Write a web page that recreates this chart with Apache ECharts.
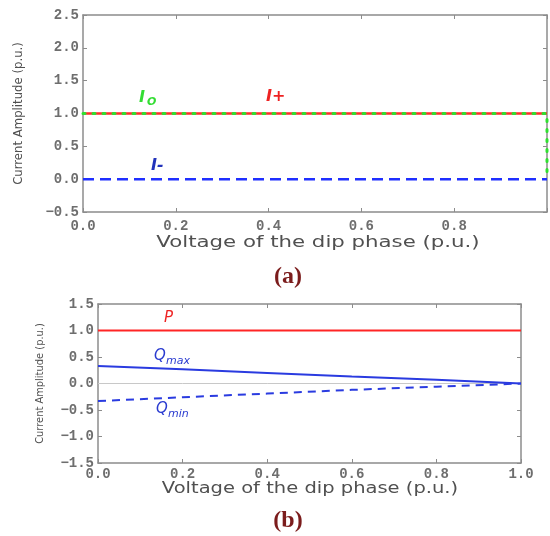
<!DOCTYPE html>
<html>
<head>
<meta charset="utf-8">
<script src="https://cdn.jsdelivr.net/npm/echarts@6/dist/echarts.min.js"></script>
<style>
  html, body { margin: 0; padding: 0; background: #fff; }
  #main { width: 550px; height: 536px; }
</style>
</head>
<body>
<div id="main"></div>
<script>
// data
var xVals = [0, 0.2, 0.4, 0.6, 0.8, 1.0];
var iPlus = [1, 1, 1, 1, 1, 1];
var iMinus = [0, 0, 0, 0, 0, 0];
var iZeroX = [0, 0.2, 0.4, 0.6, 0.8, 1.0, 1.0];
var iZero = [1, 1, 1, 1, 1, 1, 0];
var pVals = [1, 1, 1, 1, 1, 1];
var qMax = [0.33, 0.27, 0.2, 0.13, 0.07, 0];
var qMin = [-0.33, -0.26, -0.19, -0.12, -0.06, 0];
var zeroVals = [0, 0, 0, 0, 0, 0];
var xName = 'Voltage of the dip phase (p.u.)';
var yName = 'Current Amplitude (p.u.)';

function pairs(xs, ys) {
  return xs.map(function (x, i) { return [x, ys[i]]; });
}
function fmt(v) {
  return v < 0 ? '\u2212' + Math.abs(v).toFixed(1) : v.toFixed(1);
}

var myChart = echarts.init(document.getElementById('main'));

var axisColor = '#8c8c8c';
var labelStyle = {
  fontFamily: 'Liberation Mono', fontWeight: 'bold', fontSize: 14, color: '#6e6e6e'
};
var yNameStyle = { fontFamily: 'Liberation Sans Narrow, DejaVu Sans Condensed', fontSize: 13, color: '#505050' };

function xAxisCfg(grid, pos, showLabel, margin, hideLast) {
  return {
    type: 'value', gridIndex: grid, position: pos, min: 0, max: 1, interval: 0.2,
    axisLine: { show: true, onZero: false, lineStyle: { color: axisColor, width: 1.5 } },
    axisTick: { show: true, inside: true, length: 4, lineStyle: { color: axisColor } },
    axisLabel: Object.assign({
      show: showLabel, margin: margin,
      formatter: function (v) { return (hideLast && v === 1) ? '' : fmt(v); }
    }, labelStyle),
    splitLine: { show: false }
  };
}
function yAxisCfg(grid, pos, showLabel, min, max, name, gap, nameStyleUse) {
  return {
    type: 'value', gridIndex: grid, position: pos, min: min, max: max, interval: 0.5,
    axisLine: { show: true, onZero: false, lineStyle: { color: axisColor, width: 1.5 } },
    axisTick: { show: true, inside: true, length: 4, lineStyle: { color: axisColor } },
    axisLabel: Object.assign({ show: showLabel, margin: 4, formatter: fmt }, labelStyle),
    splitLine: { show: false },
    name: name, nameLocation: 'middle', nameGap: gap, nameTextStyle: nameStyleUse
  };
}

var option = {
  animation: false,
  grid: [
    { left: 83, top: 15, width: 466, height: 197 },
    { left: 98, top: 304, width: 423, height: 159 }
  ],
  xAxis: [
    xAxisCfg(0, 'bottom', true, 7, true),
    xAxisCfg(0, 'top', false, 4, false),
    xAxisCfg(1, 'bottom', true, 4, false),
    xAxisCfg(1, 'top', false, 4, false)
  ],
  yAxis: [
    yAxisCfg(0, 'left', true, -0.5, 2.5, yName, 58, yNameStyle),
    yAxisCfg(0, 'right', false, -0.5, 2.5, '', 0, yNameStyle),
    yAxisCfg(1, 'left', true, -1.5, 1.5, yName, 52,
      Object.assign({}, yNameStyle, { fontSize: 11 })),
    yAxisCfg(1, 'right', false, -1.5, 1.5, '', 0, yNameStyle)
  ],
  series: [
    { name: 'I+', type: 'line', xAxisIndex: 0, yAxisIndex: 0, data: pairs(xVals, iPlus),
      symbol: 'none', lineStyle: { color: '#ff2a2a', width: 2.5 }, z: 2 },
    { name: 'I0', type: 'line', xAxisIndex: 0, yAxisIndex: 0, data: pairs(iZeroX, iZero),
      symbol: 'none', clip: false,
      lineStyle: { color: '#2fe02f', width: 3, type: [2, 8], cap: 'round' }, z: 3 },
    { name: 'I-', type: 'line', xAxisIndex: 0, yAxisIndex: 0, data: pairs(xVals, iMinus),
      symbol: 'none', lineStyle: { color: '#1f2fff', width: 2.5, type: [11, 6] }, z: 2 },
    { name: 'zero', type: 'line', xAxisIndex: 2, yAxisIndex: 2, data: pairs(xVals, zeroVals),
      symbol: 'none', lineStyle: { color: '#c8c8c8', width: 1 }, z: 1 },
    { name: 'P', type: 'line', xAxisIndex: 2, yAxisIndex: 2, data: pairs(xVals, pVals),
      symbol: 'none', lineStyle: { color: '#ff2525', width: 1.8 }, z: 2 },
    { name: 'Qmax', type: 'line', xAxisIndex: 2, yAxisIndex: 2, data: pairs(xVals, qMax),
      symbol: 'none', lineStyle: { color: '#2a3be0', width: 2 }, z: 2 },
    { name: 'Qmin', type: 'line', xAxisIndex: 2, yAxisIndex: 2, data: pairs(xVals, qMin),
      symbol: 'none', lineStyle: { color: '#2a3be0', width: 2, type: [8, 6] }, z: 2 }
  ],
  graphic: [
    // x axis titles (the source figure is stretched sideways)
    { type: 'text', x: 318, y: 243, scaleX: 1.33, style: { text: xName, fill: '#505050',
      font: '16px DejaVu Sans', textAlign: 'center', textVerticalAlign: 'middle' } },
    { type: 'text', x: 310, y: 489, scaleX: 1.3, style: { text: xName, fill: '#505050',
      font: '15px DejaVu Sans', textAlign: 'center', textVerticalAlign: 'middle' } },
    // curve labels
    { type: 'text', left: 139, top: 90, style: { text: 'I', fill: '#33dd33', font: 'italic bold 16px DejaVu Sans' } },
    { type: 'text', left: 147, top: 97, style: { text: 'O', fill: '#33dd33', font: 'italic bold 11px DejaVu Sans' } },
    { type: 'text', left: 266, top: 89, style: { text: 'I+', fill: '#ee2222', font: 'italic bold 16px DejaVu Sans' } },
    { type: 'text', left: 151, top: 158, style: { text: 'I-', fill: '#2233bb', font: 'italic bold 16px DejaVu Sans' } },
    { type: 'text', left: 164, top: 311, style: { text: 'P', fill: '#ee2222', font: 'italic 15px DejaVu Sans' } },
    { type: 'text', left: 154, top: 349, style: { text: 'Q', fill: '#2a3bd0', font: 'italic 15px DejaVu Sans' } },
    { type: 'text', left: 166, top: 356, style: { text: 'max', fill: '#2a3bd0', font: 'italic 11px DejaVu Sans' } },
    { type: 'text', left: 156, top: 402, style: { text: 'Q', fill: '#2a3bd0', font: 'italic 15px DejaVu Sans' } },
    { type: 'text', left: 168, top: 409, style: { text: 'min', fill: '#2a3bd0', font: 'italic 11px DejaVu Sans' } },
    // panel captions
    { type: 'text', x: 288, y: 277, style: { text: '(a)', fill: '#7b1c1c', font: 'bold 24px Liberation Serif',
      textAlign: 'center', textVerticalAlign: 'middle' } },
    { type: 'text', x: 288, y: 521, style: { text: '(b)', fill: '#7b1c1c', font: 'bold 24px Liberation Serif',
      textAlign: 'center', textVerticalAlign: 'middle' } }
  ]
};

myChart.setOption(option);
</script>
</body>
</html>
